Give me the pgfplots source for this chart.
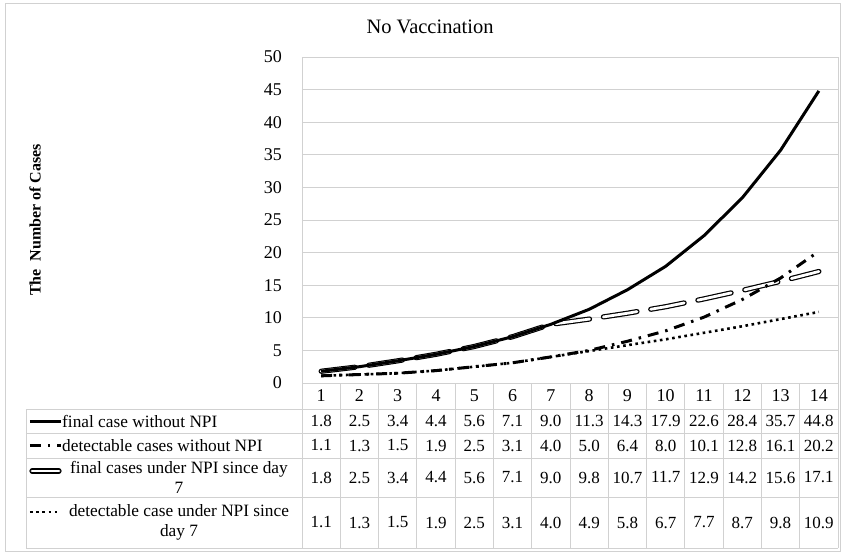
\documentclass[border=0pt]{standalone}
\usepackage{pgfplots}
\pgfplotsset{compat=1.18}
\usepackage{pgfplotstable}
\usepackage{fontspec}
\setmainfont{Liberation Serif}

\pgfplotstableread{
day fin  det  finNPI detNPI
1   1.8  1.1  1.8    1.1
2   2.5  1.3  2.5    1.3
3   3.4  1.5  3.4    1.5
4   4.4  1.9  4.4    1.9
5   5.6  2.5  5.6    2.5
6   7.1  3.1  7.1    3.1
7   9.0  4.0  9.0    4.0
8   11.3 5.0  9.8    4.9
9   14.3 6.4  10.7   5.8
10  17.9 8.0  11.7   6.7
11  22.6 10.1 12.9   7.7
12  28.4 12.8 14.2   8.7
13  35.7 16.1 15.6   9.8
14  44.8 20.2 17.1   10.9
}\casestab

\colorlet{gridc}{black!18}
\tikzset{
  finstyle/.style={black, line width=3pt},
  detstyle/.style={black, line width=3pt, dash pattern=on 11pt off 7pt on 2.5pt off 7pt},
  npistyle/.style={black, line width=1.2pt, double=white, double distance=2.8pt,
    line cap=round, dash pattern=on 34pt off 14pt},
  dnpistyle/.style={black, line width=2.6pt, dash pattern=on 2.6pt off 3.6pt},
}

\begin{document}
\begin{tikzpicture}
\useasboundingbox (-302pt,383pt) rectangle (541pt,-171pt);
\begin{axis}[
    at={(0pt,0pt)}, anchor=south west,
    scale only axis, width=536pt, height=326pt,
    xmin=0.5, xmax=14.5, ymin=0, ymax=50,
    ytick={0,5,...,50}, xtick=\empty,
    ymajorgrids, grid style={gridc, line width=0.8pt},
    axis line style={gridc, line width=0.8pt},
    major tick length=0pt,
    /pgf/number format/assume math mode=true,
    yticklabel style={font=\fontsize{18}{21}\selectfont, anchor=east, inner sep=0pt, xshift=-20pt},
    clip=false,
  ]
  \addplot[dnpistyle] table[x=day, y=detNPI] {\casestab};
  \addplot[npistyle] table[x=day, y=finNPI] {\casestab};
  \addplot[detstyle] table[x=day, y=det] {\casestab};
  \addplot[finstyle] table[x=day, y=fin] {\casestab};
\end{axis}

\begin{scope}[x=1pt, y=1pt]
  % outer chart frame
  \draw[gridc, line width=1pt] (-296,379) rectangle (538,-168);
  \node[font=\fontsize{20.5}{24}\selectfont] at (128,356) {No Vaccination};
  \node[rotate=90, font=\fontsize{16}{18}\bfseries\selectfont] at (-267,163) {The\ \ Number of Cases};

  % data table grid
  \draw[gridc, line width=0.8pt] (-276,-26) -- (536,-26);
  \foreach \yy in {-50,-75,-114,-165}
    \draw[gridc, line width=0.8pt] (-276,\yy) -- (536,\yy);
  \draw[gridc, line width=0.8pt] (-276,-26) -- (-276,-165);
  \foreach \k in {0,...,14}
    \draw[gridc, line width=0.8pt] ({\k*536/14},0) -- ({\k*536/14},-165);

  % header row and values
  \foreach \r in {0,...,13} {
    \pgfmathsetmacro{\cx}{(\r+0.5)*536/14}
    \pgfplotstablegetelem{\r}{day}\of\casestab
    \node[font=\fontsize{18}{21}\selectfont] at (\cx,-13) {\pgfplotsretval};
    \pgfplotstablegetelem{\r}{fin}\of\casestab
    \node[font=\fontsize{17}{20}\selectfont] at (\cx,-38) {\pgfplotsretval};
    \pgfplotstablegetelem{\r}{det}\of\casestab
    \node[font=\fontsize{17}{20}\selectfont] at (\cx,-62.5) {\pgfplotsretval};
    \pgfplotstablegetelem{\r}{finNPI}\of\casestab
    \node[font=\fontsize{17}{20}\selectfont] at (\cx,-94.5) {\pgfplotsretval};
    \pgfplotstablegetelem{\r}{detNPI}\of\casestab
    \node[font=\fontsize{17}{20}\selectfont] at (\cx,-139.5) {\pgfplotsretval};
  }

  % legend keys and series names
  \draw[finstyle] (-272,-38) -- (-241,-38);
  \draw[detstyle] (-272,-62.5) -- (-241,-62.5);
  \draw[npistyle, dash pattern={}] (-270,-88) -- (-243,-88);
  \draw[dnpistyle] (-272,-129) -- (-241,-129);
  \begin{scope}[every node/.style={font=\fontsize{17.3}{20.5}\selectfont, inner sep=0pt}]
    \node[anchor=west] at (-240,-38) {final case without NPI};
    \node[anchor=west] at (-240,-62.5) {detectable cases without NPI};
    \node[align=center] at (-123,-94.5) {final cases under NPI since day\\7};
    \node[align=center] at (-123,-139.5) {detectable case under NPI since\\day 7};
  \end{scope}
\end{scope}
\end{tikzpicture}
\end{document}
